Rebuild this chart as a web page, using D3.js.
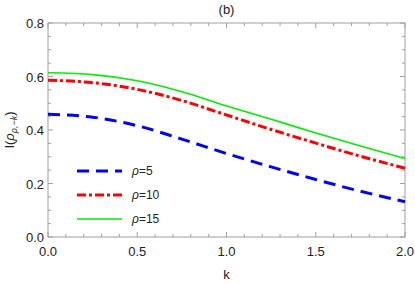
<!DOCTYPE html>
<html>
<head>
<meta charset="utf-8">
<script src="https://cdn.jsdelivr.net/npm/d3@7"></script>
<style>
  body { margin: 0; background: #fff; }
  text { font-family: "Liberation Sans", Arial, sans-serif; }
</style>
</head>
<body>
<div id="chart"></div>
<script>
const kValues = [0, 0.25, 0.5, 0.75, 1.0, 1.25, 1.5, 1.75, 2.0]
const rho5 = [0.459, 0.448, 0.416, 0.366, 0.312, 0.262, 0.215, 0.171, 0.132]
const rho10 = [0.586, 0.577, 0.552, 0.510, 0.456, 0.402, 0.351, 0.302, 0.257]
const rho15 = [0.614, 0.607, 0.584, 0.543, 0.490, 0.440, 0.389, 0.340, 0.293]
const seriesNames = ["ρ=5", "ρ=10", "ρ=15"]
const xTicks = [0, 0.5, 1.0, 1.5, 2.0]
const yTicks = [0, 0.2, 0.4, 0.6, 0.8]

const config = { width: 415, height: 284 }
const margin = { left: 48, right: 10, top: 23, bottom: 47 }

const series = [
    { name: seriesNames[0], values: rho5, color: "#0000ff", width: 3, dash: "12,7" },
    { name: seriesNames[1], values: rho10, color: "#ff0000", width: 3, dash: "9,3,3,3" },
    { name: seriesNames[2], values: rho15, color: "#00ee00", width: 1.6, dash: null }
]

const svg = d3.select("#chart")
              .append("svg")
              .attr("width", config.width)
              .attr("height", config.height)

const xScale = d3.scaleLinear()
                 .domain([0, 2])
                 .range([margin.left, config.width - margin.right])

const yScale = d3.scaleLinear()
                 .domain([0, 0.8])
                 .range([config.height - margin.bottom, margin.top])

const frameColor = "#a0a0a0"
const x0 = xScale.range()[0], x1 = xScale.range()[1]
const y0 = yScale.range()[0], y1 = yScale.range()[1]

// frame
svg.append("rect")
   .attr("x", x0).attr("y", y1)
   .attr("width", x1 - x0).attr("height", y0 - y1)
   .attr("fill", "none")
   .attr("stroke", frameColor)
   .attr("stroke-width", 1)

// ticks, inward on all four sides
const xMinor = d3.range(0, 2.0001, 0.1)
const yMinor = d3.range(0, 0.8001, 0.05)
const isMajor = (v, step) => Math.abs(v / step - Math.round(v / step)) < 1e-6

const ticks = svg.append("g").attr("stroke", frameColor).attr("stroke-width", 1)
xMinor.forEach(v => {
    const len = isMajor(v, 0.5) ? 5 : 3
    ticks.append("line").attr("x1", xScale(v)).attr("x2", xScale(v)).attr("y1", y0).attr("y2", y0 - len)
    ticks.append("line").attr("x1", xScale(v)).attr("x2", xScale(v)).attr("y1", y1).attr("y2", y1 + len)
})
yMinor.forEach(v => {
    const len = isMajor(v, 0.2) ? 5 : 3
    ticks.append("line").attr("y1", yScale(v)).attr("y2", yScale(v)).attr("x1", x0).attr("x2", x0 + len)
    ticks.append("line").attr("y1", yScale(v)).attr("y2", yScale(v)).attr("x1", x1).attr("x2", x1 - len)
})

// tick labels
svg.append("g")
   .selectAll("text")
   .data(xTicks)
   .enter()
   .append("text")
   .attr("x", d => xScale(d))
   .attr("y", y0 + 19)
   .attr("text-anchor", "middle")
   .attr("font-size", 13)
   .attr("fill", "#222")
   .text(d => d.toFixed(1))

svg.append("g")
   .selectAll("text")
   .data(yTicks)
   .enter()
   .append("text")
   .attr("x", x0 - 4)
   .attr("y", d => yScale(d) + 5)
   .attr("text-anchor", "end")
   .attr("font-size", 13)
   .attr("fill", "#222")
   .text(d => d.toFixed(1))

// axis labels and title
svg.append("text")
   .attr("x", (x0 + x1) / 2)
   .attr("y", 279)
   .attr("text-anchor", "middle")
   .attr("font-size", 13)
   .attr("fill", "#222")
   .text("k")

svg.append("text")
   .attr("x", (x0 + x1) / 2)
   .attr("y", 14)
   .attr("text-anchor", "middle")
   .attr("font-size", 13)
   .attr("fill", "#222")
   .text("(b)")

const yLabel = svg.append("text")
   .attr("transform", `translate(14, ${(y0 + y1) / 2}) rotate(-90)`)
   .attr("text-anchor", "middle")
   .attr("font-size", 13)
   .attr("fill", "#222")
yLabel.append("tspan").text("I(")
yLabel.append("tspan").attr("font-style", "italic").text("ρ")
yLabel.append("tspan").attr("font-size", 9).attr("font-style", "italic").attr("dy", 3).text("ρ,")
yLabel.append("tspan").attr("font-size", 9).attr("font-style", "italic").text("−k")
yLabel.append("tspan").attr("dy", -3).text(")")

// curves
const line = d3.line()
               .x((d, i) => xScale(kValues[i]))
               .y(d => yScale(d))
               .curve(d3.curveMonotoneX)

svg.append("g")
   .selectAll(".curve")
   .data(series)
   .enter()
   .append("path")
   .attr("class", "curve")
   .attr("d", d => line(d.values))
   .attr("fill", "none")
   .attr("stroke", d => d.color)
   .attr("stroke-width", d => d.width)
   .attr("stroke-dasharray", d => d.dash)

// legend
const legend = svg.append("g")
                  .selectAll(".legend")
                  .data(series)
                  .enter()
                  .append("g")
                  .attr("class", "legend")
                  .attr("transform", (d, i) => `translate(77, ${171 + i * 24})`)

legend.append("line")
      .attr("x1", 0).attr("x2", 45)
      .attr("y1", 0).attr("y2", 0)
      .attr("stroke", d => d.color)
      .attr("stroke-width", d => d.width)
      .attr("stroke-dasharray", d => d.dash)

legend.append("text")
      .attr("x", 55)
      .attr("y", 4)
      .attr("font-size", 12)
      .attr("fill", "#222")
      .each(function(d) {
          const t = d3.select(this)
          t.append("tspan").attr("font-style", "italic").text(d.name.slice(0, 1))
          t.append("tspan").text(d.name.slice(1))
      })
</script>
</body>
</html>
